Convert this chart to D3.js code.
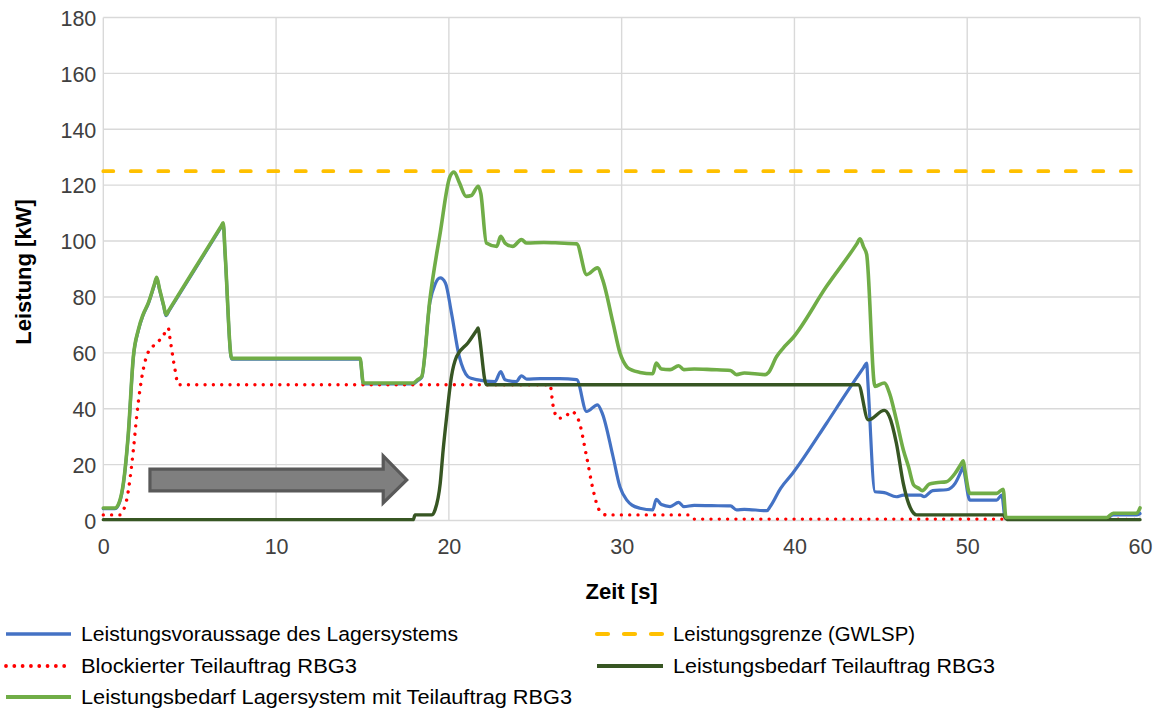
<!DOCTYPE html>
<html>
<head>
<meta charset="utf-8">
<script src="https://cdn.jsdelivr.net/npm/d3@7"></script>
<style>
  html, body { margin: 0; padding: 0; background: #fff; }
  svg { display: block; font-family: "Liberation Sans", Arial, sans-serif; }
</style>
</head>
<body>
<svg id="chart" width="1159" height="711"></svg>
<script>
// Time axis ticks and value axis ticks
const xTicks = [0, 10, 20, 30, 40, 50, 60];
const yTicks = [0, 20, 40, 60, 80, 100, 120, 140, 160, 180];

// Leistungsbedarf Lagersystem mit Teilauftrag RBG3
const tSystemTotal = [0, 0.68, 0.95, 1.16, 1.45, 1.74, 2.03, 2.3, 2.6, 2.95, 3.09, 3.25, 3.5, 3.63, 3.8, 6.8, 6.94, 7.05, 7.43, 14.86, 15.05, 17.94, 18.2, 18.43, 18.9, 19.5, 20.06, 20.3, 20.6, 21.0, 21.3, 21.7, 21.85, 22.17, 22.77, 23.0, 23.25, 23.7, 24.2, 24.5, 25.5, 26.4, 27.4, 27.97, 28.6, 28.9, 29.5, 29.9, 30.3, 30.6, 31.06, 31.8, 32.0, 32.3, 32.8, 33.3, 33.6, 34.2, 35.2, 36.3, 36.65, 37.1, 38.3, 38.5, 38.97, 39.35, 39.9, 41.86, 43.6, 43.8, 44.0, 44.18, 44.66, 45.2, 45.5, 45.9, 46.3, 46.6, 46.9, 47.2, 47.4, 47.8, 48.2, 48.8, 49.3, 49.65, 49.77, 49.85, 50.15, 51.7, 52.08, 52.24, 58.07, 58.45, 59.8, 60];
const vSystemTotal = [4.5, 4.5, 7, 13.3, 31.3, 58.7, 68.3, 73.7, 77.8, 84.4, 87, 83.0, 76.8, 73.6, 75.3, 105.1, 106.5, 95.6, 58, 58, 49.2, 49.2, 50.4, 51.5, 79, 103, 123, 124.7, 121, 116, 116.3, 119.6, 117, 99.3, 98.1, 101.7, 99.3, 98.1, 100.5, 99.3, 99.5, 99.3, 99, 88, 90.4, 86.2, 70.7, 60, 55, 53.8, 53, 52.5, 56.3, 54.2, 54, 55.4, 54, 54.2, 54, 53.7, 52.2, 52.8, 52.2, 53, 58.7, 61.7, 65.3, 83.8, 98.9, 100.8, 97.9, 95.2, 48, 49.2, 45.6, 36, 25.3, 19.3, 12.7, 11.5, 10.7, 13, 13.5, 13.9, 16.9, 20.3, 21.4, 18.7, 9.7, 9.7, 11.2, 1.1, 1.1, 2.6, 2.6, 4.5];

// Leistungsvoraussage des Lagersystems
const tForecast = [0, 0.68, 0.95, 1.16, 1.45, 1.74, 2.03, 2.3, 2.6, 2.95, 3.09, 3.25, 3.5, 3.63, 3.8, 6.8, 6.94, 7.05, 7.43, 14.86, 15.05, 17.94, 18.2, 18.43, 18.9, 19.2, 19.5, 19.8, 20.15, 20.6, 20.85, 21.1, 21.35, 21.6, 22.67, 23.0, 23.25, 23.9, 24.2, 24.5, 25.3, 26.4, 27.4, 27.97, 28.6, 28.9, 29.5, 29.9, 30.3, 30.6, 31.06, 31.8, 32.0, 32.3, 32.8, 33.3, 33.6, 34.2, 35.2, 36.3, 36.65, 37.1, 38.4, 38.6, 39.2, 39.9, 41.86, 43.0, 44.0, 44.18, 44.25, 44.66, 45.2, 45.9, 46.3, 47.3, 47.5, 48.0, 48.8, 49.3, 49.65, 49.77, 49.85, 50.15, 51.7, 52.0, 52.2, 58.07, 58.45, 59.8, 60];
const vForecast = [4.2, 4.2, 6.7, 13.0, 31.0, 58.4, 68.0, 73.4, 77.5, 84.1, 86.7, 82.7, 76.5, 73.3, 75.0, 104.8, 106.2, 95.3, 57.7, 57.7, 48.9, 48.9, 50.1, 51.2, 78, 84.5, 86.8, 85, 74.3, 58.7, 54, 51.5, 50.8, 50.4, 49.7, 53.3, 50.4, 49.7, 51.8, 50.6, 50.8, 50.8, 50.4, 39, 41.4, 38, 22.9, 12.1, 7.3, 5.5, 4.4, 3.8, 7.6, 5.7, 5.0, 6.5, 5.0, 5.4, 5.3, 5.2, 3.8, 4.0, 3.5, 5, 11.5, 16.9, 34.8, 45.6, 54.7, 56.3, 49.6, 10.3, 10, 8.5, 9.1, 9.1, 8.5, 10.7, 11, 13.3, 17.7, 19.3, 16.7, 7.3, 7.3, 9.1, 0.8, 0.8, 2.0, 2.0, 2.5];

// Leistungsgrenze (GWLSP)
const tLimit = [0, 60];
const vLimit = [125, 125];

// Blockierter Teilauftrag RBG3
const tBlocked = [0, 0.97, 1.15, 1.35, 1.74, 1.93, 2.12, 2.5, 2.9, 3.28, 3.65, 3.76, 3.85, 4.15, 4.34, 25.85, 26.04, 26.33, 26.7, 27.1, 27.5, 27.97, 28.35, 28.7, 29.1, 33.95, 34.2, 52.1, 60];
const vBlocked = [2, 2, 3.5, 7.3, 25.3, 37.2, 46.8, 58.7, 62.5, 64.7, 67.9, 68.9, 65.5, 54, 48.6, 48.6, 40.8, 36.6, 37, 39, 36, 22.9, 10.9, 3.8, 2, 2, 0.5, 0.5, 0.4];

// Leistungsbedarf Teilauftrag RBG3
const tSubOrder = [0, 17.94, 18.04, 19.0, 19.2, 19.5, 19.67, 19.87, 20.15, 20.45, 21.1, 21.6, 21.7, 21.78, 22.17, 43.7, 44.27, 45.2, 45.5, 45.9, 46.3, 46.6, 46.9, 47.07, 52.08, 52.3, 60];
const vSubOrder = [0.3, 0.3, 2, 2, 3.8, 13.3, 25.3, 37, 51.5, 58.7, 63.5, 68, 68.9, 65.5, 48.6, 48.6, 36, 39.4, 37.2, 27.7, 13.3, 6.2, 2.6, 2, 2, 0.3, 0.3];

// Arrow annotation, in data units (time start, head base, tip; body/head extents)
const arrowT = [2.7, 16.2, 17.56];
const arrowV = [18.4, 10.6, 23.1, 6.3, 14.5];

const legendLabels = [
  "Leistungsvoraussage des Lagersystems",
  "Leistungsgrenze (GWLSP)",
  "Blockierter Teilauftrag RBG3",
  "Leistungsbedarf Teilauftrag RBG3",
  "Leistungsbedarf Lagersystem mit Teilauftrag RBG3"
];

const svg = d3.select("#chart");
const W = 1159, H = 711;
svg.append("rect").attr("width", W).attr("height", H).attr("fill", "#fff");

const plot = { left: 103.3, right: 1140, top: 17.5, bottom: 520.5 };
const x = d3.scaleLinear().domain([0, 60]).range([plot.left, plot.right]);
const y = d3.scaleLinear().domain([0, 180]).range([plot.bottom, plot.top]);

// Grid
const grid = svg.append("g");
grid.selectAll("line.h").data(yTicks).join("line")
  .attr("x1", plot.left).attr("x2", plot.right)
  .attr("y1", d => y(d)).attr("y2", d => y(d))
  .attr("stroke", "#d9d9d9").attr("stroke-width", 1.4);
grid.selectAll("line.v").data(xTicks).join("line")
  .attr("y1", plot.top).attr("y2", plot.bottom)
  .attr("x1", d => x(d)).attr("x2", d => x(d))
  .attr("stroke", "#d9d9d9").attr("stroke-width", 1.4);

// Axes (labels only; lines come from the grid)
const yAxis = svg.append("g").attr("transform", `translate(${plot.left - 7},0)`)
  .call(d3.axisLeft(y).tickValues(yTicks).tickSize(0).tickPadding(0));
const xAxis = svg.append("g").attr("transform", `translate(0,${plot.bottom + 18})`)
  .call(d3.axisBottom(x).tickValues(xTicks).tickSize(0).tickPadding(0));
[yAxis, xAxis].forEach(a => {
  a.select(".domain").remove();
  a.selectAll("text").attr("font-family", "Liberation Sans, Arial, sans-serif")
    .attr("font-size", 21.5).attr("fill", "#404040");
});
yAxis.selectAll("text").attr("dy", "0.36em");
xAxis.selectAll("text").attr("dy", "0.74em");

// Axis titles
svg.append("text")
  .attr("x", x(30)).attr("y", 599)
  .attr("text-anchor", "middle")
  .attr("font-size", 22).attr("font-weight", "bold").attr("fill", "#000")
  .text("Zeit [s]");
svg.append("text")
  .attr("transform", "translate(31,272) rotate(-90)")
  .attr("text-anchor", "middle")
  .attr("font-size", 22).attr("font-weight", "bold").attr("fill", "#000")
  .text("Leistung [kW]");

// Series (smoothed, passing through every sample)
const line = d3.line().x(d => x(d[0])).y(d => y(d[1])).curve(d3.curveMonotoneX);
const zip = (t, v) => t.map((ti, i) => [ti, v[i]]);

const series = [
  { key: "forecast", data: zip(tForecast, vForecast), color: "#4472C4", width: 3.2, dash: null, cap: "round" },
  { key: "limit", data: zip(tLimit, vLimit), color: "#FFC000", width: 3.8, dash: "10 17.5", cap: "round" },
  { key: "blocked", data: zip(tBlocked, vBlocked), color: "#FF0000", width: 3.4, dash: "0.01 8.3", cap: "round" },
  { key: "suborder", data: zip(tSubOrder, vSubOrder), color: "#375623", width: 3.4, dash: null, cap: "round" },
  { key: "total", data: zip(tSystemTotal, vSystemTotal), color: "#70AD47", width: 3.6, dash: null, cap: "round" }
];

const arrowPath = [
  [arrowT[0], arrowV[0]], [arrowT[1], arrowV[0]], [arrowT[1], arrowV[2]],
  [arrowT[2], arrowV[4]], [arrowT[1], arrowV[3]], [arrowT[1], arrowV[1]],
  [arrowT[0], arrowV[1]]
];

const lines = svg.append("g");
series.forEach(s => {
  lines.append("path")
    .datum(s.data)
    .attr("d", line)
    .attr("fill", "none")
    .attr("stroke", s.color)
    .attr("stroke-width", s.width)
    .attr("stroke-linecap", s.cap)
    .attr("stroke-linejoin", "round")
    .attr("stroke-dasharray", s.dash);
});

// Block arrow annotation
svg.append("path")
  .attr("d", d3.line().x(d => x(d[0])).y(d => y(d[1]))(arrowPath) + "Z")
  .attr("fill", "#7f7f7f")
  .attr("stroke", "#595959")
  .attr("stroke-width", 3.2)
  .attr("stroke-linejoin", "miter");

// Legend
const legendItems = [
  { s: series[0], label: legendLabels[0], lx: 4, ty: 634, tw: 377 },
  { s: series[1], label: legendLabels[1], lx: 595, ty: 634, tw: 242 },
  { s: series[2], label: legendLabels[2], lx: 4, ty: 666, tw: 276 },
  { s: series[3], label: legendLabels[3], lx: 595, ty: 666, tw: 322 },
  { s: series[4], label: legendLabels[4], lx: 4, ty: 697, tw: 491 }
];
const legend = svg.append("g");
legendItems.forEach(it => {
  const lineLen = it.lx < 100 ? 69 : 70;
  legend.append("line")
    .attr("x1", it.lx + 2).attr("x2", it.lx + lineLen - 2)
    .attr("y1", it.ty).attr("y2", it.ty)
    .attr("stroke", it.s.color)
    .attr("stroke-width", it.s.width + 0.4)
    .attr("stroke-linecap", it.s.key === "blocked" || it.s.key === "limit" ? "round" : "butt")
    .attr("stroke-dasharray", it.s.key === "limit" ? "11 16" : it.s.dash);
  legend.append("text")
    .attr("x", it.lx + (it.lx < 100 ? 77 : 78)).attr("y", it.ty + 7)
    .attr("font-size", 20.5).attr("fill", "#000")
    .attr("textLength", it.tw).attr("lengthAdjust", "spacingAndGlyphs")
    .text(it.label);
});
</script>
</body>
</html>
